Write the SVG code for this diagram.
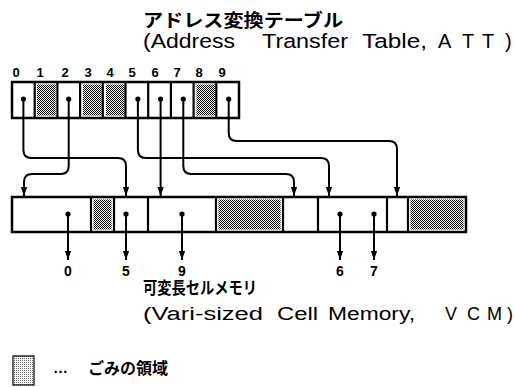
<svg xmlns="http://www.w3.org/2000/svg" width="515" height="387" viewBox="0 0 515 387">
<defs>
<pattern id="dots" width="2" height="2" patternUnits="userSpaceOnUse">
<rect width="2" height="2" fill="#fff"/>
<rect x="0" y="0" width="1" height="1" fill="#000"/>
<rect x="1" y="1" width="1" height="1" fill="#000"/>
</pattern>
<pattern id="light" width="2" height="2" patternUnits="userSpaceOnUse">
<rect width="2" height="2" fill="#fff"/>
<rect x="0" y="0" width="1" height="1" fill="#666"/>
</pattern>
<marker id="ah" viewBox="0 0 10 10" refX="10" refY="5" markerWidth="4.5" markerHeight="4.5" orient="auto" markerUnits="strokeWidth">
<path d="M0,1.5 L10,5 L0,8.5 Z" fill="#000"/>
</marker>
</defs>
<style>
.box{fill:#fff;stroke:#000;stroke-width:2.5}
.div{stroke:#000;stroke-width:2.2}
.gar{fill:url(#dots)}
.dot{fill:#000}
.con{fill:none;stroke:#000;stroke-width:2;marker-end:url(#ah)}
.jp{font-family:"Noto Sans CJK JP","Noto Sans",sans-serif;font-weight:700;fill:#000}
.en{font-family:"Liberation Sans","DejaVu Sans",sans-serif;fill:#000}
.num{font-family:"Liberation Sans","DejaVu Sans",sans-serif;font-weight:700;fill:#000;text-anchor:middle}
</style>
<rect width="515" height="387" fill="#fff"/>

<g id="att-title">
<text class="jp" x="143" y="27" font-size="18" textLength="200" lengthAdjust="spacingAndGlyphs">アドレス変換テーブル</text>
<text class="en" x="143" y="48" font-size="20" textLength="92" lengthAdjust="spacingAndGlyphs">(Address</text>
<text class="en" x="262" y="48" font-size="20" textLength="86" lengthAdjust="spacingAndGlyphs">Transfer</text>
<text class="en" x="362" y="48" font-size="20" textLength="65" lengthAdjust="spacingAndGlyphs">Table,</text>
<text class="en" x="438 462 482 505" y="48" font-size="20">ATT)</text>
</g>

<g id="att-indices">
<text class="num" font-size="13" y="77" x="16">0</text>
<text class="num" font-size="13" y="77" x="40">1</text>
<text class="num" font-size="13" y="77" x="65">2</text>
<text class="num" font-size="13" y="77" x="88">3</text>
<text class="num" font-size="13" y="77" x="110">4</text>
<text class="num" font-size="13" y="77" x="132">5</text>
<text class="num" font-size="13" y="77" x="155">6</text>
<text class="num" font-size="13" y="77" x="177">7</text>
<text class="num" font-size="13" y="77" x="199">8</text>
<text class="num" font-size="13" y="77" x="222">9</text>
</g>

<g id="att">
<rect class="box" x="12" y="82" width="227" height="36"/>
<rect class="gar" x="37" y="84.5" width="18.7" height="31"/>
<rect class="gar" x="83" y="84.5" width="18.7" height="31"/>
<rect class="gar" x="106" y="84.5" width="18.7" height="31"/>
<rect class="gar" x="196.5" y="84.5" width="18.7" height="31"/>
<line class="div" x1="34.7" y1="82" x2="34.7" y2="118"/>
<line class="div" x1="57.4" y1="82" x2="57.4" y2="118"/>
<line class="div" x1="80.1" y1="82" x2="80.1" y2="118"/>
<line class="div" x1="102.8" y1="82" x2="102.8" y2="118"/>
<line class="div" x1="125.5" y1="82" x2="125.5" y2="118"/>
<line class="div" x1="148.2" y1="82" x2="148.2" y2="118"/>
<line class="div" x1="170.9" y1="82" x2="170.9" y2="118"/>
<line class="div" x1="193.6" y1="82" x2="193.6" y2="118"/>
<line class="div" x1="216.3" y1="82" x2="216.3" y2="118"/>
<circle class="dot" cx="23.4" cy="99" r="2.6"/>
<circle class="dot" cx="68.7" cy="99" r="2.6"/>
<circle class="dot" cx="137.9" cy="99" r="2.6"/>
<circle class="dot" cx="160.6" cy="99" r="2.6"/>
<circle class="dot" cx="183.3" cy="99" r="2.6"/>
<circle class="dot" cx="228.7" cy="99" r="2.6"/>
</g>

<g id="vcm">
<rect class="box" x="12" y="197" width="454" height="35"/>
<rect class="gar" x="93.5" y="199.5" width="18" height="30"/>
<rect class="gar" x="218.5" y="199.5" width="62" height="30"/>
<rect class="gar" x="410.5" y="199.5" width="53" height="30"/>
<line class="div" x1="91" y1="197" x2="91" y2="232"/>
<line class="div" x1="114" y1="197" x2="114" y2="232"/>
<line class="div" x1="148" y1="197" x2="148" y2="232"/>
<line class="div" x1="216" y1="197" x2="216" y2="232"/>
<line class="div" x1="283" y1="197" x2="283" y2="232"/>
<line class="div" x1="318" y1="197" x2="318" y2="232"/>
<line class="div" x1="387" y1="197" x2="387" y2="232"/>
<line class="div" x1="408" y1="197" x2="408" y2="232"/>
<circle class="dot" cx="68" cy="214" r="2.6"/>
<circle class="dot" cx="126" cy="214" r="2.6"/>
<circle class="dot" cx="182" cy="214" r="2.6"/>
<circle class="dot" cx="340" cy="214" r="2.6"/>
<circle class="dot" cx="374" cy="214" r="2.6"/>
</g>

<g id="connectors">
<path class="con" d="M23.4,99 V150 Q23.4,158 31.4,158 H118 Q126,158 126,166 V196"/>
<path class="con" d="M68.7,99 V166 Q68.7,174 60.7,174 H32 Q24,174 24,182 V196"/>
<path class="con" d="M137.9,99 V150 Q137.9,158 145.9,158 H321 Q329,158 329,166 V196"/>
<path class="con" d="M160.6,99 V196"/>
<path class="con" d="M183.3,99 V166 Q183.3,174 191.3,174 H286 Q294,174 294,182 V196"/>
<path class="con" d="M228.7,99 V133 Q228.7,141 236.7,141 H389 Q397,141 397,149 V196"/>
<path class="con" d="M68,214 V260"/>
<path class="con" d="M126,214 V260"/>
<path class="con" d="M182,214 V260"/>
<path class="con" d="M340,214 V260"/>
<path class="con" d="M374,214 V260"/>
</g>

<g id="vcm-labels">
<text class="num" font-size="14" y="276" x="68">0</text>
<text class="num" font-size="14" y="276" x="126">5</text>
<text class="num" font-size="14" y="276" x="182">9</text>
<text class="num" font-size="14" y="276" x="340">6</text>
<text class="num" font-size="14" y="276" x="374">7</text>
</g>

<g id="vcm-title">
<text class="jp" x="143" y="294" font-size="17" textLength="114" lengthAdjust="spacingAndGlyphs">可変長セルメモリ</text>
<text class="en" x="143" y="320" font-size="18" textLength="120" lengthAdjust="spacingAndGlyphs">(Vari-sized</text>
<text class="en" x="277" y="320" font-size="18" textLength="41" lengthAdjust="spacingAndGlyphs">Cell</text>
<text class="en" x="328" y="320" font-size="18" textLength="87" lengthAdjust="spacingAndGlyphs">Memory,</text>
<text class="en" x="445 467 487 507" y="320" font-size="18">VCM)</text>
</g>

<g id="legend">
<rect x="13" y="356" width="21" height="29" fill="url(#light)" stroke="#000" stroke-width="1.2"/>
<text class="en" x="53" y="373" font-size="14" font-weight="700" textLength="15" lengthAdjust="spacingAndGlyphs">…</text>
<text class="jp" x="88" y="374" font-size="16" textLength="80" lengthAdjust="spacingAndGlyphs">ごみの領域</text>
</g>
</svg>
